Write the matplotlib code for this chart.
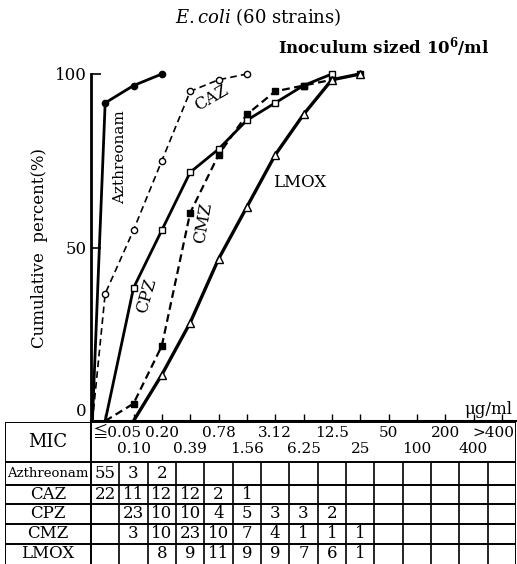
import numpy as np
import matplotlib
matplotlib.use('Agg')
import matplotlib.pyplot as plt
import matplotlib.transforms as mtransforms

plt.rcParams['font.family'] = ['DejaVu Serif', 'Noto Sans CJK JP']
plt.rcParams['mathtext.fontset'] = 'dejavuserif'

# MIC steps (ug/ml), one table column each
mic = ['≦0.05', '0.10', '0.20', '0.39', '0.78', '1.56', '3.12', '6.25',
       '12.5', '25', '50', '100', '200', '400', '>400']

# number of strains per MIC step (None = empty cell)
azthreonam = [55, 3, 2, None, None, None, None, None, None, None, None, None, None, None, None]
caz = [22, 11, 12, 12, 2, 1, None, None, None, None, None, None, None, None, None]
cpz = [None, 23, 10, 10, 4, 5, 3, 3, 2, None, None, None, None, None, None]
cmz = [None, 3, 10, 23, 10, 7, 4, 1, 1, 1, None, None, None, None, None]
lmox = [None, None, 8, 9, 11, 9, 9, 7, 6, 1, None, None, None, None, None]
drugs = ['Azthreonam', 'CAZ', 'CPZ', 'CMZ', 'LMOX']
counts = [azthreonam, caz, cpz, cmz, lmox]
n_strains = 60

W, H = 517, 564
colw = 28.33  # px per MIC column
fig = plt.figure(figsize=(W / 100, H / 100), dpi=100)

# ---- curve panel
ax = fig.add_axes([91 / W, 1 - 421 / H, (516 - 91) / W, (421 - 74) / H])
ax.set_xlim(-0.5, 14.5)
ax.set_ylim(0, 100)

styles = {
    'Azthreonam': dict(ls='-', lw=2.0, marker='o', mfc='black', ms=4.5),
    'CAZ': dict(ls=(0, (4, 2.5)), lw=1.2, marker='o', mfc='white', ms=4.5),
    'CPZ': dict(ls='-', lw=2.0, marker='s', mfc='white', ms=4.5),
    'CMZ': dict(ls=(0, (3.5, 2)), lw=1.6, marker='s', mfc='black', ms=4.5),
    'LMOX': dict(ls='-', lw=2.4, marker='^', mfc='white', ms=5.5),
}

for name, c in zip(drugs, counts):
    idx = [i for i, v in enumerate(c) if v is not None]
    vals = [c[i] for i in idx]
    cum = np.cumsum(vals) / n_strains * 100
    x0 = max(idx[0] - 1, -0.45)
    st = styles[name]
    # line from 0 % at the step below the first MIC
    ax.plot([x0] + idx, [0] + list(cum), color='black', ls=st['ls'], lw=st['lw'],
            clip_on=False, zorder=2)
    ax.plot(idx, cum, ls='none', marker=st['marker'], mfc=st['mfc'], mec='black',
            mew=1.0, ms=st['ms'], clip_on=False, zorder=3)

ax.text(0.52, 76, 'Azthreonam', rotation=90, ha='center', va='center', fontsize=11)
ax.text(3.74, 93, 'CAZ', rotation=30, ha='center', va='center', fontsize=12)
ax.text(1.48, 36, 'CPZ', rotation=74, ha='center', va='center', fontsize=12)
ax.text(3.45, 57, 'CMZ', rotation=80, ha='center', va='center', fontsize=12)
ax.text(6.88, 68.6, 'LMOX', ha='center', va='center', fontsize=12)

for s in ['top', 'right']:
    ax.spines[s].set_visible(False)
ax.spines['left'].set_linewidth(2.0)
ax.spines['bottom'].set_linewidth(1.5)
ax.set_xticks(range(len(mic)))
ax.set_xticklabels([])
ax.set_yticks([0, 50, 100])
ax.set_yticklabels(['0', '50', '100'])
ax.tick_params(axis='x', direction='in', length=5, width=1.0)
ax.tick_params(axis='y', direction='in', length=7, width=1.2, labelsize=12, pad=3)
lab0 = ax.get_yticklabels()[0]
lab0.set_transform(lab0.get_transform() + mtransforms.ScaledTranslation(0, 0.11, fig.dpi_scale_trans))
ax.set_ylabel('Cumulative  percent(%)', fontsize=12, labelpad=5)

fig.text(258 / W, 1 - 17 / H, r'$\mathit{E.coli}$ (60 strains)', ha='center', va='center',
         fontsize=13)
fig.text(490 / W, 1 - 47 / H, r'Inoculum sized $\mathbf{10^6}$/ml', ha='right', va='center',
         fontsize=12, fontweight='bold')
fig.text(512 / W, 1 - 409 / H, 'μg/ml', ha='right', va='center', fontsize=12)

# ---- table under the panel
tab = fig.add_axes([5 / W, 0, (516 - 5) / W, (564 - 422) / H])
left = -0.5 - (91 - 5) / colw
tab.set_xlim(left, 14.5)
tab.set_ylim(142, 0)
tab.axis('off')

row_edges = [0, 40, 63, 82, 102, 122]
tab.hlines(row_edges, left, 14.5, color='black', lw=1.4)
tab.vlines([left, -0.5, 14.5], 0, 142, color='black', lw=1.4)
tab.vlines(np.arange(0.5, 14.5, 1.0), 40, 142, color='black', lw=1.2)

label_x = (left - 0.5) / 2
tab.text(label_x, 20, 'MIC', ha='center', va='center', fontsize=13)
for i, m in enumerate(mic):
    y = 11 if i % 2 == 0 else 27
    ha = 'center'
    x = i
    if i == 0:
        ha, x = 'left', -0.45
    elif i == len(mic) - 1:
        ha, x = 'right', 14.45
    tab.text(x, y, m, ha=ha, va='center', fontsize=11)

row_mid = [(row_edges[k] + (row_edges[k + 1] if k + 1 < len(row_edges) else 142)) / 2
           for k in range(1, len(row_edges))]
for r, (name, c) in enumerate(zip(drugs, counts)):
    yc = row_mid[r]
    tab.text(label_x, yc, name, ha='center', va='center',
             fontsize=9.5 if name == 'Azthreonam' else 12)
    for i, v in enumerate(c):
        if v is not None:
            tab.text(i, yc, str(v), ha='center', va='center', fontsize=12)

fig.savefig('out.png', dpi=100)
